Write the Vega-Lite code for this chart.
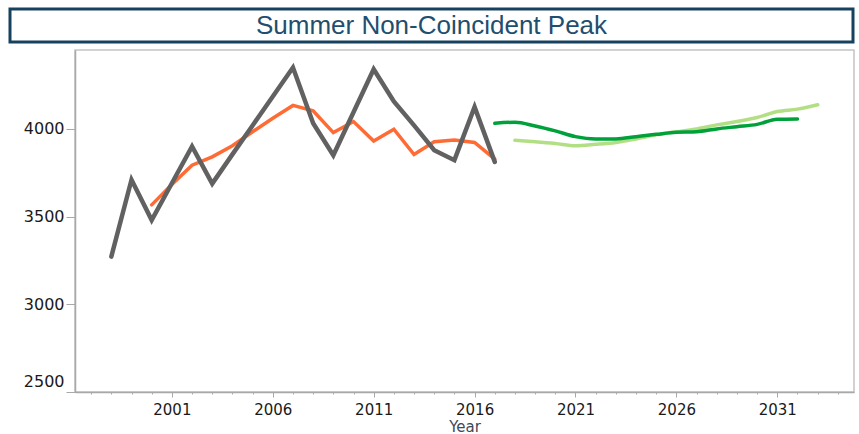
{
  "$schema": "https://vega.github.io/schema/vega-lite/v6.json",
  "padding": {"left": 8, "top": 7, "right": 2, "bottom": 0},
  "background": "white",
  "spacing": 5,
  "config": {"font": "DejaVu Sans"},
  "vconcat": [
    {
      "width": 843,
      "height": 33,
      "view": {"stroke": "#17425F", "strokeWidth": 3, "fill": "white"},
      "data": {"values": [{"title": "Summer Non-Coincident Peak"}]},
      "mark": {"type": "text", "font": "Liberation Sans", "fontSize": 26, "color": "#1F4E6E", "baseline": "middle", "align": "center"},
      "encoding": {"text": {"field": "title", "type": "nominal"}}
    },
    {
      "spacing": 0,
      "hconcat": [
        {
          "width": 1,
          "height": 342,
          "view": {"stroke": null},
          "data": {"values": []},
          "mark": {"type": "point", "opacity": 0},
          "encoding": {}
        },
        {
          "width": 779,
          "height": 342,
          "view": {"stroke": "#C4C4C4", "strokeWidth": 1.5},
          "data": {
            "values": [
              {"year": 2018, "value": 3935, "series": "Prior Forecast"},
              {"year": 2019, "value": 3927, "series": "Prior Forecast"},
              {"year": 2020, "value": 3917, "series": "Prior Forecast"},
              {"year": 2021, "value": 3904, "series": "Prior Forecast"},
              {"year": 2022, "value": 3912, "series": "Prior Forecast"},
              {"year": 2023, "value": 3923, "series": "Prior Forecast"},
              {"year": 2024, "value": 3943, "series": "Prior Forecast"},
              {"year": 2025, "value": 3966, "series": "Prior Forecast"},
              {"year": 2026, "value": 3984, "series": "Prior Forecast"},
              {"year": 2027, "value": 4000, "series": "Prior Forecast"},
              {"year": 2028, "value": 4023, "series": "Prior Forecast"},
              {"year": 2029, "value": 4042, "series": "Prior Forecast"},
              {"year": 2030, "value": 4065, "series": "Prior Forecast"},
              {"year": 2031, "value": 4099, "series": "Prior Forecast"},
              {"year": 2032, "value": 4113, "series": "Prior Forecast"},
              {"year": 2033, "value": 4138, "series": "Prior Forecast"},
              {"year": 2017, "value": 4032, "series": "Forecast"},
              {"year": 2018, "value": 4038, "series": "Forecast"},
              {"year": 2019, "value": 4017, "series": "Forecast"},
              {"year": 2020, "value": 3989, "series": "Forecast"},
              {"year": 2021, "value": 3956, "series": "Forecast"},
              {"year": 2022, "value": 3943, "series": "Forecast"},
              {"year": 2023, "value": 3943, "series": "Forecast"},
              {"year": 2024, "value": 3956, "series": "Forecast"},
              {"year": 2025, "value": 3969, "series": "Forecast"},
              {"year": 2026, "value": 3981, "series": "Forecast"},
              {"year": 2027, "value": 3984, "series": "Forecast"},
              {"year": 2028, "value": 4000, "series": "Forecast"},
              {"year": 2029, "value": 4013, "series": "Forecast"},
              {"year": 2030, "value": 4026, "series": "Forecast"},
              {"year": 2031, "value": 4055, "series": "Forecast"},
              {"year": 2032, "value": 4057, "series": "Forecast"},
              {"year": 2000, "value": 3567, "series": "Weather Normalized"},
              {"year": 2001, "value": 3683, "series": "Weather Normalized"},
              {"year": 2002, "value": 3793, "series": "Weather Normalized"},
              {"year": 2003, "value": 3841, "series": "Weather Normalized"},
              {"year": 2004, "value": 3904, "series": "Weather Normalized"},
              {"year": 2005, "value": 3984, "series": "Weather Normalized"},
              {"year": 2006, "value": 4061, "series": "Weather Normalized"},
              {"year": 2007, "value": 4134, "series": "Weather Normalized"},
              {"year": 2008, "value": 4103, "series": "Weather Normalized"},
              {"year": 2009, "value": 3979, "series": "Weather Normalized"},
              {"year": 2010, "value": 4042, "series": "Weather Normalized"},
              {"year": 2011, "value": 3931, "series": "Weather Normalized"},
              {"year": 2012, "value": 3998, "series": "Weather Normalized"},
              {"year": 2013, "value": 3854, "series": "Weather Normalized"},
              {"year": 2014, "value": 3927, "series": "Weather Normalized"},
              {"year": 2015, "value": 3937, "series": "Weather Normalized"},
              {"year": 2016, "value": 3923, "series": "Weather Normalized"},
              {"year": 2017, "value": 3828, "series": "Weather Normalized"},
              {"year": 1998, "value": 3272, "series": "Actual"},
              {"year": 1999, "value": 3710, "series": "Actual"},
              {"year": 2000, "value": 3480, "series": "Actual"},
              {"year": 2001, "value": 3690, "series": "Actual"},
              {"year": 2002, "value": 3900, "series": "Actual"},
              {"year": 2003, "value": 3688, "series": "Actual"},
              {"year": 2004, "value": 3855, "series": "Actual"},
              {"year": 2005, "value": 4020, "series": "Actual"},
              {"year": 2006, "value": 4185, "series": "Actual"},
              {"year": 2007, "value": 4350, "series": "Actual"},
              {"year": 2008, "value": 4032, "series": "Actual"},
              {"year": 2009, "value": 3850, "series": "Actual"},
              {"year": 2010, "value": 4095, "series": "Actual"},
              {"year": 2011, "value": 4340, "series": "Actual"},
              {"year": 2012, "value": 4157, "series": "Actual"},
              {"year": 2013, "value": 4020, "series": "Actual"},
              {"year": 2014, "value": 3879, "series": "Actual"},
              {"year": 2015, "value": 3822, "series": "Actual"},
              {"year": 2016, "value": 4125, "series": "Actual"},
              {"year": 2017, "value": 3812, "series": "Actual"}
            ]
          },
          "encoding": {
            "x": {
              "field": "year",
              "type": "quantitative",
              "scale": {"domain": [1996.2, 2034.8], "nice": false, "zero": false},
              "axis": {
                "title": "Year",
                "titleFont": "DejaVu Sans",
                "titleFontSize": 15,
                "titleFontWeight": "normal",
                "titleColor": "#3F4858",
                "titlePadding": 2,
                "values": [1997, 1998, 1999, 2000, 2001, 2002, 2003, 2004, 2005, 2006, 2007, 2008, 2009, 2010, 2011, 2012, 2013, 2014, 2015, 2016, 2017, 2018, 2019, 2020, 2021, 2022, 2023, 2024, 2025, 2026, 2027, 2028, 2029, 2030, 2031, 2032, 2033, 2034],
                "format": "d",
                "labelExpr": "datum.value % 5 == 1 ? datum.label : ''",
                "labelOverlap": false,
                "labelFlush": false,
                "labelFont": "DejaVu Sans",
                "labelFontSize": 15,
                "labelColor": "#1A1A1A",
                "labelPadding": 5,
                "tickSize": {"condition": {"test": "datum.value % 5 == 1", "value": 5}, "value": 2},
                "tickColor": "#A8A8A8",
                "domainColor": "#A8A8A8",
                "domainWidth": 1.5,
                "grid": false
              }
            },
            "y": {
              "field": "value",
              "type": "quantitative",
              "scale": {"domain": [2500, 4450], "nice": false, "zero": false},
              "axis": {
                "title": null,
                "values": [2500, 3000, 3500, 4000],
                "format": "d",
                "labelFont": "DejaVu Sans",
                "labelFontSize": 16,
                "labelColor": "#1A1A1A",
                "labelPadding": 2,
                "labelFlush": false,
                "labelOffset": {"condition": {"test": "datum.value == 2500", "value": -11}, "value": 0},
                "tickSize": 9,
                "tickColor": "#A8A8A8",
                "domainColor": "#A8A8A8",
                "domainWidth": 1.5,
                "grid": false,
                "minExtent": 63,
                "maxExtent": 63
              }
            }
          },
          "layer": [
            {
              "transform": [{"filter": "datum.series == 'Prior Forecast'"}],
              "mark": {"type": "line", "color": "#B3DF84", "strokeWidth": 3.5, "interpolate": "monotone", "strokeCap": "round"}
            },
            {
              "transform": [{"filter": "datum.series == 'Forecast'"}],
              "mark": {"type": "line", "color": "#00A03A", "strokeWidth": 3.5, "interpolate": "monotone", "strokeCap": "round"}
            },
            {
              "transform": [{"filter": "datum.series == 'Weather Normalized'"}],
              "mark": {"type": "line", "color": "#FF6B35", "strokeWidth": 3.5, "strokeCap": "round"}
            },
            {
              "transform": [{"filter": "datum.series == 'Actual'"}],
              "mark": {"type": "line", "color": "#616161", "strokeWidth": 4.5, "strokeCap": "round"}
            }
          ]
        }
      ]
    }
  ]
}
